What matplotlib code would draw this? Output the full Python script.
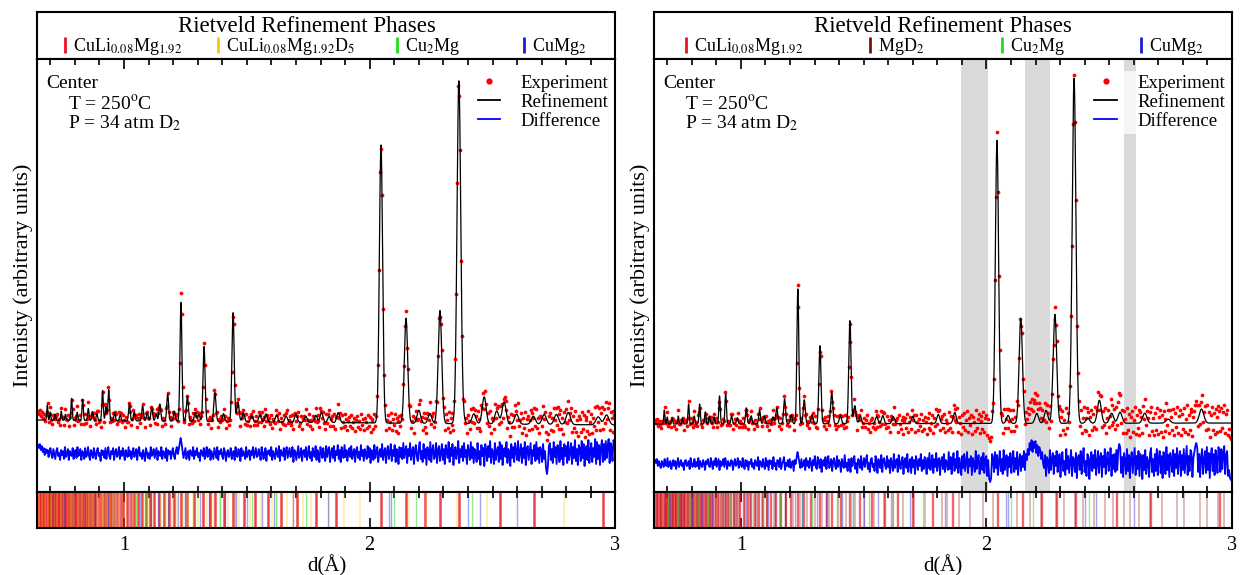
import numpy as np
import matplotlib.pyplot as plt
from matplotlib.ticker import MultipleLocator
from matplotlib.lines import Line2D

plt.rcParams['font.family'] = ['Liberation Serif', 'DejaVu Serif']
plt.rcParams['mathtext.fontset'] = 'stix'

d_min, d_max = 0.648, 3.0

# peaks: d-spacing and height above background (arb. units)
left_peak_d = [0.688, 0.700, 0.720, 0.745, 0.762, 0.787, 0.810, 0.832, 0.855, 0.872,
               0.890, 0.913, 0.927, 0.938, 0.962, 0.985, 1.022, 1.042, 1.076, 1.095,
               1.113, 1.131, 1.146, 1.178, 1.205, 1.232, 1.258, 1.290, 1.305, 1.326,
               1.370, 1.405, 1.444, 1.464, 1.486, 1.520, 1.553, 1.578, 1.621, 1.660,
               1.700, 1.740, 1.781, 1.804, 1.835, 1.872, 2.046, 2.148, 2.200, 2.245,
               2.286, 2.363, 2.378, 2.424, 2.466, 2.517, 2.547, 2.598, 2.666, 2.710,
               2.760, 2.808, 2.930, 2.964]
left_peak_h = [15, 8, 6, 9, 6, 22, 8, 21, 12, 9,
               7, 30, 14, 31, 8, 6, 17, 9, 15, 8,
               14, 7, 17, 27, 10, 119, 25, 9, 7, 75,
               29, 8, 109, 20, 9, 6, 7, 8, 7, 6,
               8, 6, 7, 10, 6, 10, 278, 105, 13, 10,
               113, 342, 6, 10, 27, 13, 22, 10, 8, 10,
               10, 12, 8, 10]
left_background = [72, 67]

right_peak_d = [0.688, 0.700, 0.720, 0.745, 0.762, 0.787, 0.810, 0.832, 0.855, 0.872,
                0.890, 0.913, 0.938, 0.962, 0.985, 1.022, 1.042, 1.076, 1.095, 1.131,
                1.146, 1.178, 1.205, 1.232, 1.258, 1.290, 1.322, 1.370, 1.405, 1.444,
                1.464, 1.486, 1.553, 1.578, 1.621, 1.700, 1.804, 1.871, 2.043, 2.088,
                2.140, 2.205, 2.243, 2.279, 2.357, 2.413, 2.460, 2.510, 2.544, 2.645,
                2.740, 2.876]
right_peak_h = [14, 7, 6, 8, 6, 20, 8, 20, 12, 8,
                7, 28, 30, 8, 6, 16, 8, 14, 8, 7,
                16, 25, 9, 135, 24, 9, 78, 31, 8, 103,
                18, 8, 7, 8, 7, 7, 9, 11, 283, 8,
                105, 10, 13, 109, 345, 5, 23, 10, 11, 10,
                4, 14]
right_background = [68, 69]

# difference (obs - calc), 600 points from d=0.65 to 3.0
left_diff = [
    9, 6, 10, 4, 8, 2, 6, -1, 5, 1, 4, -3, 3, 6, -1, -4, 5, 0, -5, 3,
    6, -2, 1, -6, 4, -1, 3, -5, 7, -3, 0, 5, -6, 3, -1, -2, 6, -5, 2, 4,
    -4, 7, -2, 0, 5, -6, 3, 1, -5, 6, -3, -1, 7, -2, -6, 4, 1, -4, 6, 0,
    -5, 3, 6, -2, 1, -7, 4, -1, 3, -4, 6, -5, 2, 7, -2, -5, 3, 0, 6, -6,
    2, 5, -3, 0, 7, -5, 3, -2, 6, 1, -6, 4, -1, -3, 7, -2, 3, -5, 1, 6,
    -3, 0, 5, -6, 3, 7, -2, 1, -5, 4, -1, -7, 6, 2, -4, 1, -5, 7, -2, 0,
    5, -4, 1, 6, -6, 3, -1, -2, 7, -5, 3, 1, -4, 6, -7, 4, 0, 3, -5, 2,
    6, -2, -5, 3, 7, 0, 4, 10, 16, 11, 3, -4, 1, 6, -5, 0, 3, -6, 4, 1,
    -2, 7, -5, 3, -1, 6, -3, 1, -7, 4, 2, -2, 6, -5, 0, 7, -3, 2, 5, -6,
    3, -1, -5, 6, 1, -4, 7, -6, 3, 0, 5, -2, -5, 6, 2, -7, 1, 4, -3, 0,
    6, -5, 1, 3, -6, 7, -1, -3, 5, 1, -7, 6, -2, 3, 0, -5, 7, -3, 1, 4,
    -6, 3, -1, 7, -4, 1, 6, -3, -2, 5, 0, -6, 7, 2, -5, 1, 6, -7, 3, 0,
    4, -2, 7, -6, 3, -1, -5, 6, 1, -3, 8, -7, 4, 0, -2, 6, -6, 3, 7, -4,
    1, 6, -3, 0, 7, -8, 4, 2, -6, 1, 8, -4, -1, 6, -7, 3, 4, -3, 7, -6,
    0, 8, -4, 2, -7, 6, 1, -3, 8, -6, 4, -1, -8, 7, 2, -4, 6, -2, -7, 8,
    -3, 4, 7, -8, 1, 6, -4, 8, -7, 3, -1, 9, -5, 4, -8, 7, 1, -4, 9, -3,
    4, -7, 2, 6, -3, 8, -5, 1, 5, -8, 3, 7, -4, 2, -6, 9, -2, 4, -7, 5,
    1, -5, 8, -3, 6, -9, 4, 2, -6, 9, -4, 3, 7, -8, 1, 5, -3, 10, -6, 2,
    6, -9, 3, 8, -5, 1, 10, -7, 4, -2, 9, -8, 5, 2, -10, 7, -3, 6, -5, 11,
    -4, 3, 8, -9, 5, -2, 11, -6, 2, 7, -10, 4, 9, -3, -7, 6, 12, -5, 3, -8,
    10, -4, 5, -11, 7, 2, -6, 12, -8, 3, 9, -5, -2, 11, -9, 4, 8, -7, 1, 10,
    -6, 5, -10, 9, 3, -4, 12, -8, 6, -2, 10, -11, 4, 7, -5, 2, 13, -9, 5, -3,
    8, -7, 11, -3, 4, -10, 9, 2, -6, 12, -4, 7, -9, 5, 1, -8, 11, -5, 3, -11,
    9, -2, 6, -12, 10, 4, -7, 8, -3, 13, -9, 5, 2, -10, 11, -6, 3, 7, -8, 12,
    -5, 9, -11, 4, 6, -3, 12, -9, 5, 1, -12, 10, -4, 7, -8, 11, 3, -6, 13, -7,
    2, 10, -9, 6, -4, 12, -11, 5, 8, -6, 3, 11, -10, 4, -2, 9, -7, 12, -5, 6,
    -9, 7, 4, -8, 10, -5, 3, -14, -20, -12, 8, 11, -6, 5, -9, 12, -3, 7, -10, 9,
    4, -8, 13, -5, 6, -11, 10, -2, 8, -9, 12, -6, 3, 11, -10, 7, -4, 14, -7, 5,
    -11, 9, 6, -7, 13, -4, 10, -12, 5, 8, -6, 14, -9, 3, 11, -8, 6, -3, 15, -10,
    12, -5, 9, -11, 7, 14, -8, 10, -6, 13, -4, 8, 15, -9, 11, 6, -7, 14, 10, 7]
right_diff = [
    4, 1, 5, -2, 3, -1, -4, 3, 1, -3, 5, 0, -2, 6, -3, 1, 3, -5, 0, 4,
    -2, 3, -5, 1, 6, -3, 0, 4, -2, 1, -6, 3, 4, -2, -1, 3, -5, 6, 1, -3,
    0, 5, -3, 2, -2, 6, -5, 3, -1, -3, 4, 1, -6, 3, 0, 5, -2, -3, 6, 1,
    -5, 3, -1, 6, -3, 1, 5, -6, 3, -2, 0, 5, -3, 6, 1, -5, 3, -1, -2, 4,
    3, -6, 1, 5, -2, 0, 6, -4, 3, 1, -3, 6, -1, -5, 4, -2, 3, -6, 2, 0,
    5, -3, 1, -5, 4, 0, -2, 7, -6, 3, 1, -3, 5, -1, -5, 6, -2, 3, -6, 4,
    0, 3, -5, 7, -2, 1, -6, 4, 3, -3, 6, -5, 0, 3, 7, -6, 1, -2, 4, -3,
    5, -4, 1, 3, -7, 4, 0, 6, 12, 7, 1, -4, 5, -3, 0, 4, -6, 6, -2, 3,
    -4, 6, 1, -7, 4, -1, 8, -3, -5, 7, 2, -4, 5, -8, 1, 4, -2, 7, -5, 3,
    8, -4, 0, 5, -7, 3, 6, -2, -5, 8, -3, 4, 1, -8, 5, -1, -4, 9, -3, 1,
    -7, 5, 2, -8, 6, -2, 4, 8, -5, 1, -9, 5, 3, -4, 8, -6, 0, 6, -3, 4,
    9, -5, 1, -8, 4, 6, -3, 0, -7, 8, 2, -9, 5, 1, -4, 9, -8, 4, 6, -2,
    -5, 8, -3, 4, -9, 6, 1, -7, 10, -4, 2, 5, -8, 9, 0, -5, 4, 7, -10, 3,
    6, -4, 10, -8, 1, 5, -9, 7, -3, 4, -10, 8, 2, -6, 5, -2, 10, -7, 4, -5,
    7, 2, -10, 6, -4, 11, -6, 1, 9, -9, 5, -3, 11, -7, 4, 6, -11, 3, 7, -5,
    10, -8, 4, 1, -6, 12, -5, 7, -10, 3, 11, -7, 5, -4, 13, -9, 6, 0, -11, 8,
    -4, 10, -7, 3, 12, -9, 5, -2, 8, -11, 6, 1, -8, 13, -5, 4, 9, -10, 2, 7,
    -6, 11, -9, 5, 8, -12, 4, -15, -18, -14, 10, 6, -8, 12, -4, 9, -11, 3, 13, -7,
    5, -10, 14, -6, 2, 9, -12, 7, -3, 11, -9, 4, 13, -8, 6, -5, 12, -11, 3, 10,
    -7, 8, -3, 13, -6, 10, 4, 15, 9, 21, 14, 24, 12, 22, 16, 23, 11, 19, 8, 17,
    14, 5, 12, 0, -4, 9, -12, 7, 3, -9, 14, -6, 5, 11, -10, 8, -2, 13, -8, 4,
    10, -13, 6, 12, -7, 3, -11, 15, -5, 8, -9, 2, 14, -12, 7, 4, -8, 11, -14, 6,
    9, -6, 13, -10, 5, 16, -8, 3, -12, 10, 7, -15, 4, 12, -7, 9, -4, 14, -11, 2,
    13, -9, 6, 11, -13, 8, -3, 15, -10, 5, 12, -7, 1, 16, -12, 9, -5, 10, -8, 14,
    -6, 14, 20, 17, -9, 7, -13, 11, 4, -10, 15, -7, 9, -14, 6, 12, -9, 3, 16, -11,
    8, -5, 13, -12, 10, 4, -15, 9, -6, 14, -10, 7, 2, -13, 11, 16, -8, 5, -12, 10,
    -7, 15, -11, 6, 13, -9, 8, -14, 12, 3, -10, 17, -6, 9, -13, 11, 5, -8, 14, -12,
    10, -4, 16, -10, 7, 13, -12, 9, -6, 15, -9, 4, 18, -11, 8, -7, 14, 11, -13, 6,
    12, 18, 21, 16, -8, 10, -13, 7, 15, -10, 4, 13, -9, 17, -6, 11, -14, 8, 16, -7,
    10, -11, 14, 6, -9, 17, 12, -8, 15, -5, 11, 18, -10, 9, 13, -12, -6, -14, -16, -13]
left_diff_level = 38
right_diff_level = 28

# reflection positions of each phase (d, Angstrom)
refl_culimg = [0.652, 0.659, 0.664, 0.671, 0.676, 0.683, 0.689, 0.694, 0.701, 0.707,
               0.713, 0.718, 0.724, 0.731, 0.737, 0.742, 0.749, 0.755, 0.762, 0.768,
               0.774, 0.781, 0.787, 0.795, 0.802, 0.809, 0.817, 0.824, 0.831, 0.839,
               0.846, 0.854, 0.862, 0.871, 0.879, 0.888, 0.897, 0.907, 0.917, 0.928,
               0.938, 0.949, 0.961, 0.973, 0.986, 0.998, 1.012, 1.027, 1.041, 1.058,
               1.072, 1.089, 1.106, 1.124, 1.141, 1.163, 1.182, 1.205, 1.232, 1.258,
               1.286, 1.323, 1.352, 1.370, 1.409, 1.444, 1.487, 1.532, 1.586, 1.640,
               1.703, 1.781, 1.862, 2.046, 2.148, 2.225, 2.286, 2.363, 2.530, 2.670, 2.950]
refl_culimgd5 = [0.655, 0.668, 0.680, 0.692, 0.705, 0.716, 0.729, 0.744, 0.758, 0.771,
                 0.785, 0.799, 0.814, 0.829, 0.844, 0.858, 0.873, 0.892, 0.902, 0.910,
                 0.925, 0.944, 0.958, 0.975, 0.991, 1.008, 1.034, 1.052, 1.080, 1.098,
                 1.117, 1.149, 1.172, 1.196, 1.214, 1.240, 1.262, 1.279, 1.301, 1.337,
                 1.361, 1.392, 1.422, 1.468, 1.515, 1.556, 1.601, 1.624, 1.662, 1.690,
                 1.727, 1.760, 1.833, 1.895, 1.960, 2.160, 2.230, 2.355, 2.478, 2.792]
refl_mgd2 = [0.660, 0.675, 0.690, 0.705, 0.722, 0.737, 0.752, 0.770, 0.786, 0.803,
             0.820, 0.838, 0.857, 0.875, 0.893, 0.912, 0.932, 0.952, 0.972, 0.993,
             1.015, 1.037, 1.060, 1.084, 1.108, 1.133, 1.158, 1.185, 1.212, 1.240,
             1.270, 1.300, 1.330, 1.360, 1.395, 1.430, 1.466, 1.503, 1.542, 1.582,
             1.620, 1.662, 1.705, 1.750, 1.818, 1.841, 1.887, 1.933, 1.986, 2.025,
             2.125, 2.178, 2.224, 2.285, 2.316, 2.362, 2.392, 2.438, 2.484, 2.515,
             2.560, 2.584, 2.622, 2.668, 2.715, 2.776, 2.806, 2.868, 2.898, 2.944, 2.968]
refl_cu2mg = [0.703, 0.745, 0.792, 0.826, 0.865, 0.921, 0.957, 1.050, 1.090, 1.160,
              1.250, 1.290, 1.390, 1.450, 1.520, 1.620, 1.740, 2.100, 2.190, 2.416]
refl_cumg2 = [0.712, 0.758, 0.801, 0.842, 0.881, 0.935, 0.978, 1.021, 1.066, 1.112,
              1.138, 1.178, 1.219, 1.248, 1.311, 1.346, 1.412, 1.455, 1.500, 1.560,
              1.612, 1.690, 1.830, 2.078, 2.086, 2.400, 2.448, 2.600]

# regions excluded from the refinement (right panel)
excluded = [(1.898, 2.006), (2.158, 2.260), (2.560, 2.610)]

RED, YELLOW, GREEN, BLUE, DARKRED = '#e8141e', '#f2c811', '#22dd22', '#1c1cd8', '#8b0a0a'

# name, colour, reflections, alpha, line width, key position
left_phases = [
    (r'CuLi$_{0.08}$Mg$_{1.92}$', RED, refl_culimg, 0.8, 1.8, 0.048),
    (r'CuLi$_{0.08}$Mg$_{1.92}$D$_5$', YELLOW, refl_culimgd5, 0.35, 1.2, 0.312),
    (r'Cu$_2$Mg', GREEN, refl_cu2mg, 0.5, 1.0, 0.622),
    (r'CuMg$_2$', BLUE, refl_cumg2, 0.4, 1.0, 0.842),
]
right_phases = [
    (r'CuLi$_{0.08}$Mg$_{1.92}$', RED, refl_culimg, 0.65, 1.7, 0.054),
    (r'MgD$_2$', DARKRED, refl_mgd2, 0.3, 1.3, 0.373),
    (r'Cu$_2$Mg', GREEN, refl_cu2mg, 0.5, 1.0, 0.602),
    (r'CuMg$_2$', BLUE, refl_cumg2, 0.4, 1.0, 0.842),
]


def calc_profile(d, peak_d, peak_h, background):
    y = background[0] + (background[1] - background[0]) * (d - d_min) / (d_max - d_min)
    for c, h in zip(peak_d, peak_h):
        sig = 0.0032 * c
        y = y + h * np.exp(-0.5 * ((d - c) / sig) ** 2)
    return y


def style_x(ax):
    ax.set_xlim(d_min, d_max)
    ax.xaxis.set_major_locator(MultipleLocator(1))
    ax.xaxis.set_minor_locator(MultipleLocator(0.1))
    ax.set_yticks([])
    for s in ax.spines.values():
        s.set_linewidth(1.5)


fig = plt.figure(figsize=(12.44, 5.75), dpi=100)
d_grid = np.linspace(0.65, 3.0, 600)
d_fine = np.linspace(d_min, d_max, 6000)

panels = [
    (0.0301, 0.4646, 0.466, left_peak_d, left_peak_h, left_background, left_diff,
     left_diff_level, left_phases, [], False),
    (0.5261, 0.4642, 0.5, right_peak_d, right_peak_h, right_background, right_diff,
     right_diff_level, right_phases, excluded, True),
]

for (x0, w, title_x, pk_d, pk_h, bg, diff, diff_level, phases, shaded, boxed) in panels:
    ax_head = fig.add_axes([x0, 0.8974, w, 0.0817])
    ax = fig.add_axes([x0, 0.1443, w, 0.7531])
    ax_strip = fig.add_axes([x0, 0.0817, w, 0.0626])

    # header with phase key
    ax_head.set_xticks([])
    ax_head.set_yticks([])
    for s in ax_head.spines.values():
        s.set_linewidth(1.5)
    ax_head.text(title_x, 0.57, 'Rietveld Refinement Phases', transform=ax_head.transAxes,
                 ha='center', va='baseline', fontsize=16.5)
    for name, col, refl, a, lw, xpos in phases:
        ax_head.plot([xpos], [0.3], marker='|', ms=11, mew=2, color=col,
                     transform=ax_head.transAxes)
        ax_head.text(xpos + 0.014, 0.17, name, transform=ax_head.transAxes,
                     ha='left', va='baseline', fontsize=13)

    # main pattern
    calc_fine = calc_profile(d_fine, pk_d, pk_h, bg)
    obs = calc_profile(d_grid, pk_d, pk_h, bg) + np.array(diff)
    for a, b in shaded:
        ax.axvspan(a, b, color='#dadada', lw=0, zorder=0)
    ax.plot(d_grid, obs, 'o', color='#ff0000', ms=2.7, mew=0, zorder=2)
    ax.plot(d_fine, calc_fine, color='black', lw=0.9, zorder=3)
    ax.plot(d_grid, diff_level + np.array(diff), color='#0000ff', lw=1.3, zorder=2)
    ax.set_ylim(0, 433)
    style_x(ax)
    ax.tick_params(axis='x', which='both', direction='in', top=True, bottom=True,
                   labelbottom=False, width=1.2)
    ax.tick_params(axis='x', which='major', length=7)
    ax.tick_params(axis='x', which='minor', length=4)
    ax.set_ylabel('Intenisty (arbitrary units)', fontsize=16, labelpad=3)

    ax.text(0.016, 0.943, 'Center', transform=ax.transAxes, fontsize=14, va='center')
    ax.text(0.053, 0.897, r'T = 250$^{\rm o}$C', transform=ax.transAxes, fontsize=14,
            va='center')
    ax.text(0.053, 0.851, r'P = 34 atm D$_2$', transform=ax.transAxes, fontsize=14,
            va='center')

    handles = [Line2D([], [], marker='o', ls='none', color='#ff0000', ms=4.5, mew=0),
               Line2D([], [], color='black', lw=1.3),
               Line2D([], [], color='#0000ff', lw=1.3)]
    leg = ax.legend(handles, ['Experiment', 'Refinement', 'Difference'], loc='upper right',
                    bbox_to_anchor=(0.995, 0.972), fontsize=13.5, handlelength=1.2,
                    handletextpad=1.1, labelspacing=0.1, borderaxespad=0, borderpad=0.2,
                    frameon=boxed, fancybox=False)
    if boxed:
        leg.get_frame().set_facecolor('white')
        leg.get_frame().set_alpha(0.75)
        leg.get_frame().set_edgecolor('none')

    # reflection markers
    for name, col, refl, a, lw, xpos in phases:
        ax_strip.vlines(refl, 0, 1, colors=col, lw=lw, alpha=a)
    ax_strip.set_ylim(0, 1)
    style_x(ax_strip)
    ax_strip.tick_params(axis='x', which='major', direction='in', top=True, bottom=True,
                         length=7, width=1.2, labelsize=14.5, pad=6)
    ax_strip.tick_params(axis='x', which='minor', direction='in', top=True, bottom=False,
                         length=4, width=1.2)
    ax_strip.set_xlabel('d(Å)', fontsize=15, labelpad=0)

fig.savefig('out.png', dpi=100)
